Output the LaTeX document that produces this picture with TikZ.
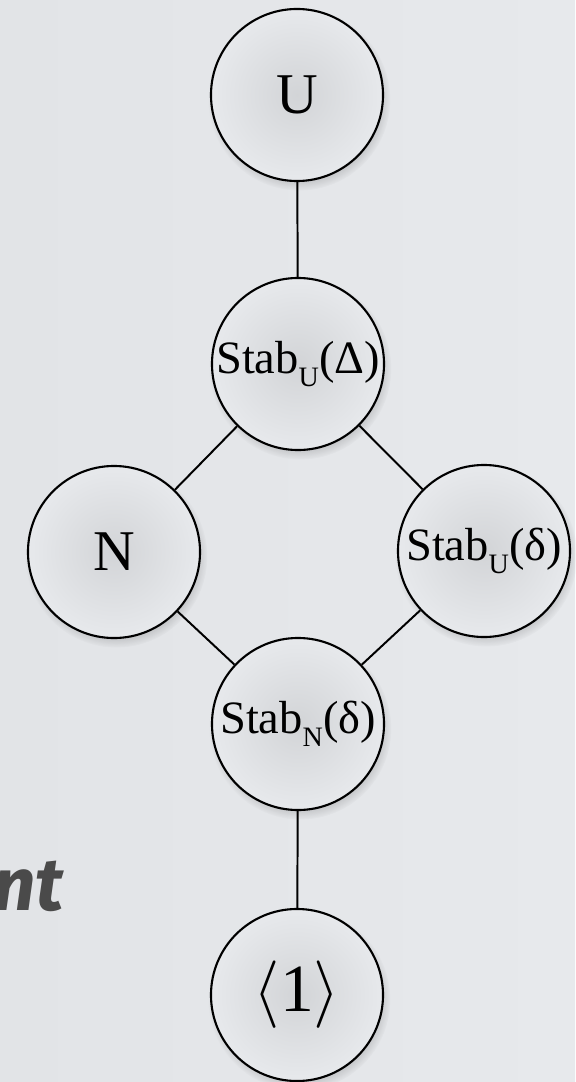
\documentclass[tikz,border=0pt]{standalone}
\usepackage{fix-cm}
\usepackage{fontspec}
\setmainfont{Liberation Serif}
\newfontfamily\handfont{Fira Sans}
\usepackage{tikz}
\usetikzlibrary{shadows,calc}
\definecolor{bgslide}{HTML}{E7E9EC}
\definecolor{bgslidedark}{HTML}{E2E4E7}
\definecolor{inkgray}{HTML}{4A4A4A}
\tikzset{
  group/.style={circle,draw=black,line width=1.5pt,minimum size=4.3cm,inner sep=0pt,
    inner color=black!9!bgslide,outer color=bgslide,
    circular drop shadow={shadow xshift=1.5pt,shadow yshift=-3pt,shadow scale=1.06,opacity=.18,fill=black}},
  cover/.style={black,line width=1.4pt}
}
\newcommand{\stabof}[2]{\fontsize{33}{33}\selectfont Stab\raisebox{-9.5pt}{\fontsize{20}{20}\selectfont #1}(#2)}

\begin{document}
\begin{tikzpicture}[x=0.025cm,y=-0.025cm]
  \useasboundingbox (0,0) rectangle (575,1082);
  \shade[left color=bgslidedark,right color=bgslide] (0,0) rectangle (575,1082);
  % subgroup lattice
  \node[group,font=\fontsize{41}{41}\selectfont] (U) at (297,95) {U};
  \node[group] (SD) at (298,364) {\stabof{U}{Δ}};
  \node[group,font=\fontsize{41}{41}\selectfont] (N) at (114,552) {N};
  \node[group] (SUd) at (484,551) {\stabof{U}{δ}};
  \node[group] (SNd) at (298,724) {\stabof{N}{δ}};
  \node[group,font=\fontsize{48}{48}\selectfont] (one) at (297,995) {$\langle$1$\rangle$};
  \draw[cover] (U) -- (SD);
  \draw[cover] (SD) -- (N);
  \draw[cover] (SD) -- (SUd);
  \draw[cover] (N) -- (SNd);
  \draw[cover] (SUd) -- (SNd);
  \draw[cover] (SNd) -- (one);
  % cut-off slide text
  \node[anchor=base east,text=inkgray,inner sep=0pt,
    font=\handfont\bfseries\itshape\fontsize{53}{53}\selectfont] (word) at (64,910) {nt};
\end{tikzpicture}
\end{document}
